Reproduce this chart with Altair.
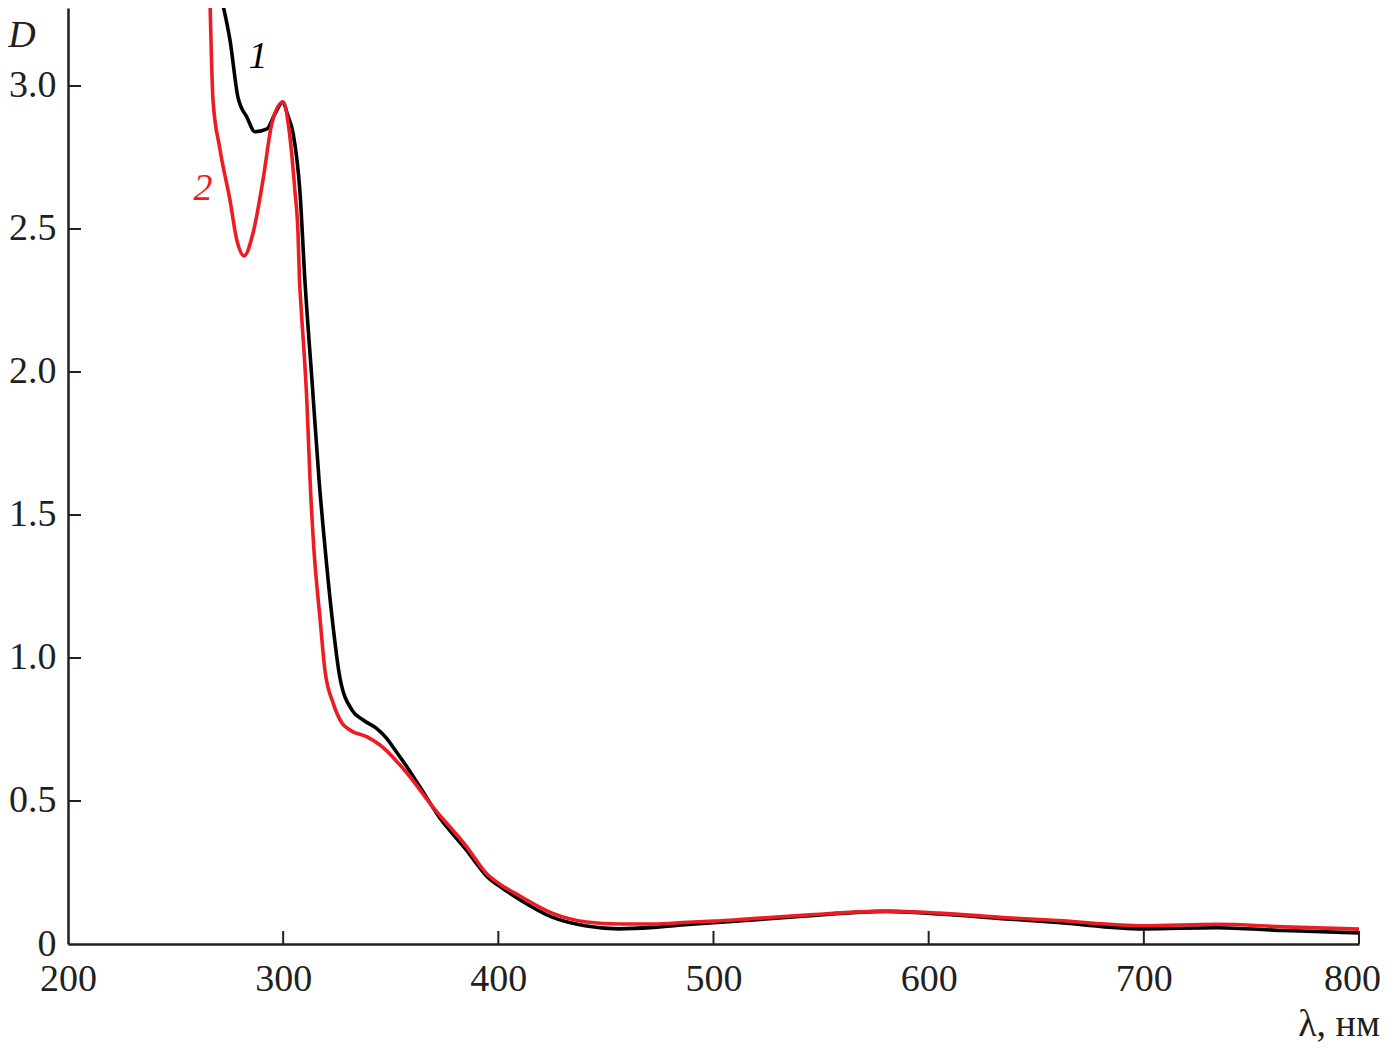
import altair as alt
import pandas as pd

# Curve 1 (black)
wl1 = [271.5, 275.3, 279.0, 283.2, 286.9, 292.5, 296.0, 299.9, 302.0, 304.6, 307.8, 310.1,
       313.4, 316.7, 319.4, 322.5, 326.4, 332.0, 337.0, 343.4, 348.1, 351.0, 357.0, 363.6,
       372.9, 376.0, 385.0, 391.5, 394.7, 400.0, 410.0, 425.0, 441.0, 456.0, 472.0, 488.0,
       515.0, 543.0, 580.0, 605.0, 636.0, 660.0, 700.0, 734.0, 765.0, 800.0]
d1 = [3.30, 3.16, 2.96, 2.89, 2.84, 2.85, 2.90, 2.944, 2.90, 2.835, 2.63, 2.32,
      1.97, 1.62, 1.39, 1.157, 0.93, 0.818, 0.784, 0.754, 0.719, 0.689, 0.625, 0.549,
      0.44, 0.41, 0.33, 0.265, 0.236, 0.205, 0.155, 0.094, 0.063, 0.053, 0.058, 0.068,
      0.082, 0.098, 0.114, 0.105, 0.088, 0.075, 0.053, 0.057, 0.047, 0.039]

# Curve 2 (red)
wl2 = [266.0, 267.4, 270.6, 275.3, 278.5, 281.8, 286.0, 290.6, 294.8, 299.9, 302.5, 305.5,
       306.9, 307.6, 308.3, 311.0, 312.5, 314.2, 317.1, 319.4, 323.2, 327.3, 331.0, 339.0,
       345.0, 357.5, 369.6, 385.4, 394.7, 400.0, 410.0, 425.0, 441.0, 456.0, 472.0, 488.0,
       500.0, 515.0, 543.0, 580.0, 605.0, 636.0, 660.0, 700.0, 734.0, 765.0, 800.0]
d2 = [3.30, 2.95, 2.78, 2.60, 2.46, 2.406, 2.486, 2.67, 2.87, 2.944, 2.86, 2.63,
      2.486, 2.32, 2.23, 1.90, 1.622, 1.39, 1.14, 0.958, 0.843, 0.773, 0.748, 0.724,
      0.696, 0.598, 0.479, 0.339, 0.245, 0.213, 0.168, 0.108, 0.077, 0.07, 0.07, 0.076,
      0.08, 0.087, 0.101, 0.115, 0.108, 0.092, 0.082, 0.064, 0.069, 0.06, 0.052]

series_names = ["1", "2"]
series_colors = ["#000000", "#ed1c24"]

x_labels = [200, 300, 400, 500, 600, 700, 800]
x_ticks = [300, 400, 500, 600, 700, 800]
y_labels = [0, 0.5, 1.0, 1.5, 2.0, 2.5, 3.0]
y_ticks = [0.5, 1.0, 1.5, 2.0, 2.5, 3.0]

y_title = ["D"]
x_title = ["λ, нм"]
annot_text = ["1", "2"]
annot_x = [288.3, 262.7]
annot_y = [3.063, 2.601]

AX = "#231f20"
FONT = "Liberation Serif"
FS = 38

W, H = 1291, 936
xscale = alt.Scale(domain=[200, 800], nice=False, zero=False)
yscale = alt.Scale(domain=[0, 3.2727], nice=False, zero=False)
cscale = alt.Scale(domain=series_names, range=series_colors)

df = pd.concat([
    pd.DataFrame({"wl": wl1, "D": d1, "s": series_names[0]}),
    pd.DataFrame({"wl": wl2, "D": d2, "s": series_names[1]}),
])

xaxis = alt.Axis(values=x_labels, title=None, grid=False, ticks=False,
                 labelFont=FONT, labelFontSize=FS, labelColor=AX,
                 labelPadding=16, labelFlush=False, labelOverlap=False,
                 labelBound=False, domainColor=AX, domainWidth=2.5, format="d",
                 labelOffset={"condition": {"test": "datum.value == 800", "value": -7}, "value": 0})
yaxis = alt.Axis(values=y_labels, title=None, grid=False, ticks=False,
                 labelFont=FONT, labelFontSize=FS, labelColor=AX,
                 labelPadding=12, labelFlush=False, labelOverlap=False,
                 labelBound=False, domainColor=AX, domainWidth=2.5,
                 labelExpr="datum.value == 0 ? '0' : format(datum.value, '.1f')")

lines = alt.Chart(df).mark_line(clip=True, strokeWidth=3.6, interpolate="monotone").encode(
    x=alt.X("wl:Q", scale=xscale, axis=xaxis),
    y=alt.Y("D:Q", scale=yscale, axis=yaxis),
    color=alt.Color("s:N", scale=cscale, legend=None),
    order=alt.Order("wl:Q"),
)

xt = alt.Chart(pd.DataFrame({"wl": x_ticks})).mark_rule(color=AX, strokeWidth=2).encode(
    x=alt.X("wl:Q", scale=xscale, axis=xaxis),
    y=alt.value(H), y2=alt.value(H - 13),
)
yt = alt.Chart(pd.DataFrame({"D": y_ticks})).mark_rule(color=AX, strokeWidth=2).encode(
    y=alt.Y("D:Q", scale=yscale, axis=yaxis),
    x=alt.value(0), x2=alt.value(13),
)

annot = alt.Chart(pd.DataFrame({"t": annot_text, "wl": annot_x, "D": annot_y, "s": series_names})).mark_text(
    font=FONT, fontSize=FS, fontStyle="italic", align="center", baseline="alphabetic"
).encode(
    x=alt.X("wl:Q", scale=xscale, axis=xaxis),
    y=alt.Y("D:Q", scale=yscale, axis=yaxis),
    text="t:N",
    color=alt.Color("s:N", scale=cscale, legend=None),
)

ytitle = alt.Chart(pd.DataFrame({"t": y_title})).mark_text(
    font=FONT, fontSize=FS, fontStyle="italic", align="center", baseline="alphabetic", color=AX
).encode(x=alt.value(-46), y=alt.value(39), text="t:N")

xtitle = alt.Chart(pd.DataFrame({"t": x_title})).mark_text(
    font=FONT, fontSize=FS, align="right", baseline="alphabetic", color=AX
).encode(x=alt.value(1312), y=alt.value(1028), text="t:N")

chart = alt.layer(lines, xt, yt, annot, ytitle, xtitle).properties(
    width=W, height=H,
    background="white",
    autosize=alt.AutoSizeParams(type="none"),
    padding={"left": 60, "top": 0, "right": 23, "bottom": 100},
).configure_view(stroke=None)

chart.save("out.html", embed_options={"renderer": "svg", "actions": False})
